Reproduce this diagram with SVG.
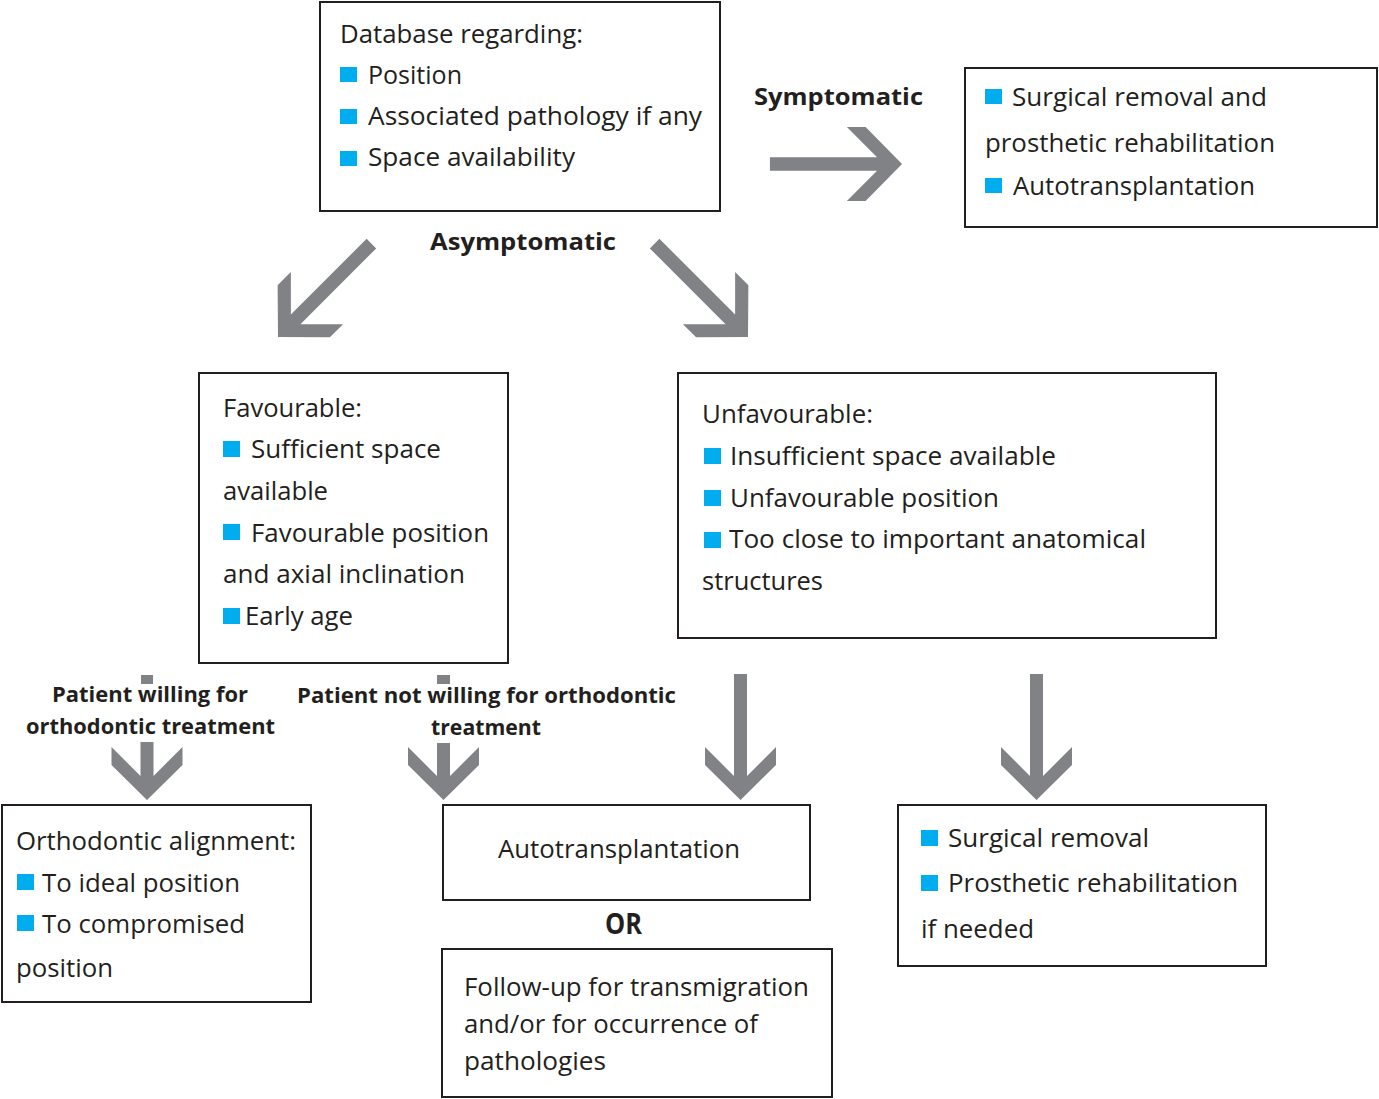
<svg xmlns="http://www.w3.org/2000/svg" width="1379" height="1099" viewBox="0 0 1379 1099">
<style>
.box{fill:#fff;stroke:#231f20;stroke-width:2}
.t{font-family:"Open Sans","Noto Sans","Liberation Sans",sans-serif;font-size:25px;fill:#231f20}
.b{font-family:"Open Sans","Noto Sans","Liberation Sans",sans-serif;font-weight:bold;fill:#231f20}
.bul{fill:#00aeef}
.arr{fill:#808285}
</style>
<rect width="1379" height="1099" fill="#fff"/>
<g id="connectors">
  <path class="arr" transform="translate(902,164) rotate(-90) scale(1.04)" d="M-6.5,-127 H6.5 V-24 L35.5,-53 V-35 L0,0 L-35.5,-35 V-53 L-6.5,-24 Z"/>
  <path class="arr" transform="translate(278,337) rotate(45) scale(1.04)" d="M-6.5,-127 H6.5 V-24 L35.5,-53 V-35 L0,0 L-35.5,-35 V-53 L-6.5,-24 Z"/>
  <path class="arr" transform="translate(748,337) rotate(-45) scale(1.04)" d="M-6.5,-127 H6.5 V-24 L35.5,-53 V-35 L0,0 L-35.5,-35 V-53 L-6.5,-24 Z"/>
  <path class="arr" transform="translate(740.5,800)" d="M-6.5,-126 H6.5 V-24 L35.5,-53 V-35 L0,0 L-35.5,-35 V-53 L-6.5,-24 Z"/>
  <path class="arr" transform="translate(1036.5,800)" d="M-6.5,-126 H6.5 V-24 L35.5,-53 V-35 L0,0 L-35.5,-35 V-53 L-6.5,-24 Z"/>
  <path class="arr" transform="translate(147,800)" d="M-6.5,-58 H6.5 V-24 L35.5,-53 V-35 L0,0 L-35.5,-35 V-53 L-6.5,-24 Z"/>
  <path class="arr" transform="translate(443.5,800)" d="M-6.5,-57 H6.5 V-24 L35.5,-53 V-35 L0,0 L-35.5,-35 V-53 L-6.5,-24 Z"/>
  <rect class="arr" x="141" y="675" width="12" height="9"/>
  <rect class="arr" x="437" y="675" width="13" height="9"/>
</g>
<g id="labels">
  <text class="b" font-size="24" x="754" y="105" textLength="169" lengthAdjust="spacingAndGlyphs">Symptomatic</text>
  <text class="b" font-size="24" x="430" y="250" textLength="186" lengthAdjust="spacingAndGlyphs">Asymptomatic</text>
  <text class="b" font-size="21" x="52" y="702" textLength="196" lengthAdjust="spacingAndGlyphs">Patient willing for</text>
  <text class="b" font-size="21" x="26" y="734" textLength="249" lengthAdjust="spacingAndGlyphs">orthodontic treatment</text>
  <text class="b" font-size="21" x="297" y="703" textLength="379" lengthAdjust="spacingAndGlyphs">Patient not willing for orthodontic</text>
  <text class="b" font-size="21" x="431" y="735" textLength="110" lengthAdjust="spacingAndGlyphs">treatment</text>
  <text class="b" font-size="29" x="605" y="934" textLength="37" lengthAdjust="spacingAndGlyphs">OR</text>
</g>
<g id="database">
  <rect class="box" x="320" y="2" width="400" height="209"/>
  <text class="t" x="340" y="43" textLength="243" lengthAdjust="spacingAndGlyphs">Database regarding:</text>
  <rect class="bul" x="340" y="67" width="17" height="15"/>
  <text class="t" x="368" y="84" textLength="94" lengthAdjust="spacingAndGlyphs">Position</text>
  <rect class="bul" x="340" y="109" width="17" height="15"/>
  <text class="t" x="368" y="125" textLength="334" lengthAdjust="spacingAndGlyphs">Associated pathology if any</text>
  <rect class="bul" x="340" y="151" width="17" height="15"/>
  <text class="t" x="368" y="166" textLength="207" lengthAdjust="spacingAndGlyphs">Space availability</text>
</g>
<g id="symptomatic-treatment">
  <rect class="box" x="965" y="68" width="412" height="159"/>
  <rect class="bul" x="985" y="89" width="17" height="15"/>
  <text class="t" x="1012" y="106" textLength="255" lengthAdjust="spacingAndGlyphs">Surgical removal and</text>
  <text class="t" x="985" y="152" textLength="290" lengthAdjust="spacingAndGlyphs">prosthetic rehabilitation</text>
  <rect class="bul" x="985" y="178" width="17" height="15"/>
  <text class="t" x="1013" y="195" textLength="242" lengthAdjust="spacingAndGlyphs">Autotransplantation</text>
</g>
<g id="favourable">
  <rect class="box" x="199" y="373" width="309" height="290"/>
  <text class="t" x="223" y="417" textLength="139" lengthAdjust="spacingAndGlyphs">Favourable:</text>
  <rect class="bul" x="223" y="441" width="17" height="16"/>
  <text class="t" x="251" y="458" textLength="190" lengthAdjust="spacingAndGlyphs">Sufficient space</text>
  <text class="t" x="223" y="500" textLength="105" lengthAdjust="spacingAndGlyphs">available</text>
  <rect class="bul" x="223" y="524" width="17" height="16"/>
  <text class="t" x="251" y="542" textLength="238" lengthAdjust="spacingAndGlyphs">Favourable position</text>
  <text class="t" x="223" y="583" textLength="242" lengthAdjust="spacingAndGlyphs">and axial inclination</text>
  <rect class="bul" x="223" y="608" width="17" height="16"/>
  <text class="t" x="245" y="625" textLength="108" lengthAdjust="spacingAndGlyphs">Early age</text>
</g>
<g id="unfavourable">
  <rect class="box" x="678" y="373" width="538" height="265"/>
  <text class="t" x="702" y="423" textLength="171" lengthAdjust="spacingAndGlyphs">Unfavourable:</text>
  <rect class="bul" x="704" y="448" width="17" height="16"/>
  <text class="t" x="730" y="465" textLength="326" lengthAdjust="spacingAndGlyphs">Insufficient space available</text>
  <rect class="bul" x="704" y="490" width="17" height="16"/>
  <text class="t" x="730" y="507" textLength="269" lengthAdjust="spacingAndGlyphs">Unfavourable position</text>
  <rect class="bul" x="704" y="532" width="17" height="16"/>
  <text class="t" x="729" y="548" textLength="417" lengthAdjust="spacingAndGlyphs">Too close to important anatomical</text>
  <text class="t" x="702" y="590" textLength="121" lengthAdjust="spacingAndGlyphs">structures</text>
</g>
<g id="orthodontic">
  <rect class="box" x="2" y="805" width="309" height="197"/>
  <text class="t" x="16" y="850" textLength="280" lengthAdjust="spacingAndGlyphs">Orthodontic alignment:</text>
  <rect class="bul" x="17" y="874" width="17" height="16"/>
  <text class="t" x="42" y="892" textLength="198" lengthAdjust="spacingAndGlyphs">To ideal position</text>
  <rect class="bul" x="17" y="915" width="17" height="16"/>
  <text class="t" x="42" y="933" textLength="203" lengthAdjust="spacingAndGlyphs">To compromised</text>
  <text class="t" x="16" y="977" textLength="97" lengthAdjust="spacingAndGlyphs">position</text>
</g>
<g id="autotransplantation">
  <rect class="box" x="443" y="805" width="367" height="95"/>
  <text class="t" x="498" y="858" textLength="242" lengthAdjust="spacingAndGlyphs">Autotransplantation</text>
</g>
<g id="follow-up">
  <rect class="box" x="442" y="949" width="390" height="148"/>
  <text class="t" x="464" y="996" textLength="345" lengthAdjust="spacingAndGlyphs">Follow-up for transmigration</text>
  <text class="t" x="464" y="1033" textLength="294" lengthAdjust="spacingAndGlyphs">and/or for occurrence of</text>
  <text class="t" x="464" y="1070" textLength="142" lengthAdjust="spacingAndGlyphs">pathologies</text>
</g>
<g id="surgical-removal">
  <rect class="box" x="898" y="805" width="368" height="161"/>
  <rect class="bul" x="921" y="830" width="17" height="16"/>
  <text class="t" x="948" y="847" textLength="201" lengthAdjust="spacingAndGlyphs">Surgical removal</text>
  <rect class="bul" x="921" y="875" width="17" height="16"/>
  <text class="t" x="948" y="892" textLength="290" lengthAdjust="spacingAndGlyphs">Prosthetic rehabilitation</text>
  <text class="t" x="921" y="938" textLength="113" lengthAdjust="spacingAndGlyphs">if needed</text>
</g>
</svg>
